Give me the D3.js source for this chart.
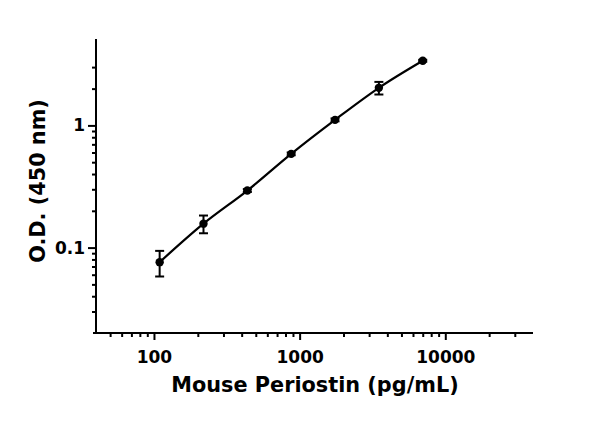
<!DOCTYPE html>
<html>
<head>
<meta charset="utf-8">
<script src="https://cdn.jsdelivr.net/npm/d3@7"></script>
<style>
  body { margin: 0; background: #fff; }
  text { font-family: "DejaVu Sans", sans-serif; font-weight: bold; fill: #000; }
</style>
</head>
<body>
<div id="chart"></div>
<script>
var svgWidth = 600;
var svgHeight = 421;

// standard curve data
var concentrations = [109.4, 218.75, 437.5, 875, 1750, 3500, 7000];
var odMeans = [0.076, 0.157, 0.293, 0.585, 1.11, 2.03, 3.38];
var odSD = [0.018, 0.026, 0.008, 0.015, 0.03, 0.24, 0.06];

var xTicks = [100, 1000, 10000];
var xMinorTicks = [50, 60, 70, 80, 90, 200, 300, 400, 500, 600, 700, 800, 900,
  2000, 3000, 4000, 5000, 6000, 7000, 8000, 9000, 20000, 30000];
var yTicks = [0.1, 1];
var yMinorTicks = [0.03, 0.04, 0.05, 0.06, 0.07, 0.08, 0.09,
  0.2, 0.3, 0.4, 0.5, 0.6, 0.7, 0.8, 0.9, 2, 3];

var data = concentrations.map(function(c, i) {
  return {conc: c, od: odMeans[i], sd: odSD[i]};
});

var svg = d3.select("#chart").append("svg")
  .attr("width", svgWidth)
  .attr("height", svgHeight);

var x = d3.scaleLog().domain([40, 40000]).range([96, 533]);
var y = d3.scaleLog().domain([0.02, 5]).range([333, 40]);

// minor ticks
svg.append("g")
  .attr("transform", "translate(0,333)")
  .call(d3.axisBottom(x).tickValues(xMinorTicks).tickSize(4).tickFormat(""))
  .call(function(g) { g.select(".domain").remove(); })
  .selectAll("line").attr("stroke", "#000").attr("stroke-width", 2);

svg.append("g")
  .attr("transform", "translate(96,0)")
  .call(d3.axisLeft(y).tickValues(yMinorTicks).tickSize(4).tickFormat(""))
  .call(function(g) { g.select(".domain").remove(); })
  .selectAll("line").attr("stroke", "#000").attr("stroke-width", 2);

// major axes
var xAxis = svg.append("g")
  .attr("transform", "translate(0,333)")
  .call(d3.axisBottom(x).tickValues(xTicks).tickSize(7).tickSizeOuter(0).tickPadding(11)
    .tickFormat(d3.format("d")));
xAxis.select(".domain").attr("stroke-width", 2).attr("d", "M93,0H533");
xAxis.selectAll("line").attr("stroke-width", 2);
xAxis.selectAll("text").style("font-size", "17px");

var yAxis = svg.append("g")
  .attr("transform", "translate(96,0)")
  .call(d3.axisLeft(y).tickValues(yTicks).tickSize(8).tickSizeOuter(0).tickPadding(3)
    .tickFormat(function(d) { return d < 1 ? "0.1" : "1"; }));
yAxis.select(".domain").attr("stroke-width", 2).attr("d", "M0,39V334");
yAxis.selectAll("line").attr("stroke-width", 2);
yAxis.selectAll("text").style("font-size", "17px");

// curve through the points
var line = d3.line()
  .x(function(d) { return x(d.conc); })
  .y(function(d) { return y(d.od); })
  .curve(d3.curveMonotoneX);

svg.append("path")
  .datum(data)
  .attr("d", line)
  .attr("fill", "none")
  .attr("stroke", "#000")
  .attr("stroke-width", 2.2);

// error bars
var err = svg.append("g").attr("stroke", "#000").attr("stroke-width", 2);
data.forEach(function(d) {
  var cx = x(d.conc);
  var y1 = y(d.od + d.sd);
  var y0 = y(d.od - d.sd);
  err.append("line").attr("x1", cx).attr("x2", cx).attr("y1", y1).attr("y2", y0);
  err.append("line").attr("x1", cx - 4.5).attr("x2", cx + 4.5).attr("y1", y1).attr("y2", y1);
  err.append("line").attr("x1", cx - 4.5).attr("x2", cx + 4.5).attr("y1", y0).attr("y2", y0);
});

svg.selectAll("circle")
  .data(data)
  .enter()
  .append("circle")
  .attr("cx", function(d) { return x(d.conc); })
  .attr("cy", function(d) { return y(d.od); })
  .attr("r", 4.2)
  .attr("fill", "#000");

// axis titles
svg.append("text")
  .attr("x", 315)
  .attr("y", 392)
  .style("text-anchor", "middle")
  .style("font-size", "20.8px")
  .text("Mouse Periostin (pg/mL)");

svg.append("text")
  .attr("transform", "translate(45,181) rotate(-90)")
  .style("text-anchor", "middle")
  .style("font-size", "20.8px")
  .text("O.D. (450 nm)");
</script>
</body>
</html>
